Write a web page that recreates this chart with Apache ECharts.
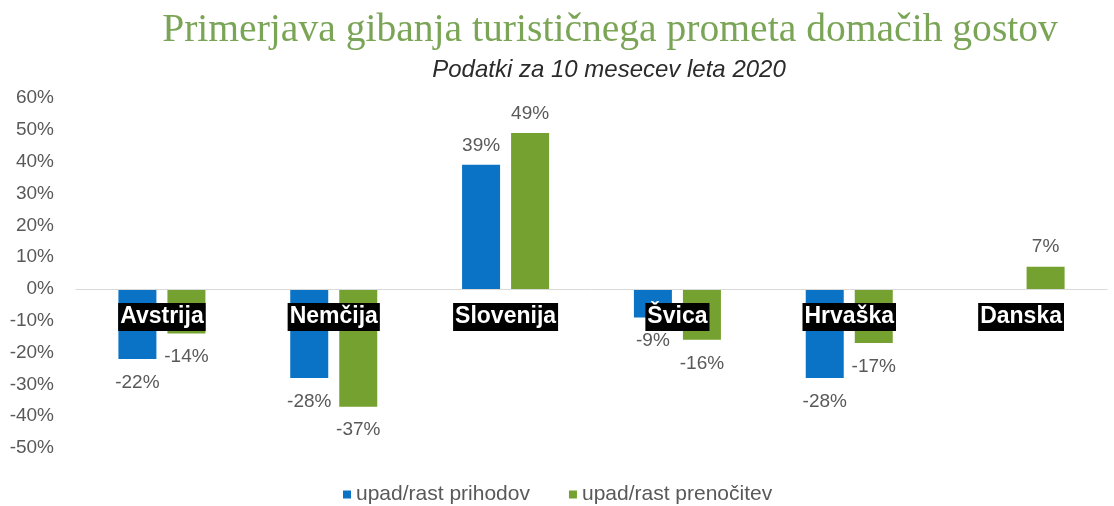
<!DOCTYPE html>
<html><head><meta charset="utf-8">
<script src="https://cdn.jsdelivr.net/npm/echarts@6/dist/echarts.min.js"></script>
<style>html,body{margin:0;padding:0;background:#fff}#c{width:1114px;height:506px}</style>
</head><body><div id="c"></div>
<script>
const categories = ['Avstrija','Nemčija','Slovenija','Švica','Hrvaška','Danska'];
const prihodki = [-22, -28, 39, -9, -28, null];
const prenocitve = [-14, -37, 49, -16, -17, 7];
const seriesNames = ['upad/rast prihodov','upad/rast prenočitev'];
const titleText = 'Primerjava gibanja turističnega prometa domačih gostov';
const subtitleText = 'Podatki za 10 mesecev leta 2020';

const toItems = arr => arr.map(v => v == null ? null : {value: v, label: v < 0 ? {position: 'bottom', distance: 14} : {position: 'top', distance: 10}});
const labelStyle = {show: true, formatter: '{c}%', color: '#595959', fontSize: 19, fontFamily: 'Liberation Sans, Arial'};

const chart = echarts.init(document.getElementById('c'));
chart.setOption({
  animation: false,
  graphic: [
    {type: 'text', x: 610, y: 31, style: {text: titleText, font: '39.6px "Liberation Serif", serif', fill: '#7ba556', align: 'center', verticalAlign: 'middle'}},
    {type: 'text', x: 609, y: 70, style: {text: subtitleText, font: 'italic 24px "Liberation Sans", Arial', fill: '#2b2b2b', align: 'center', verticalAlign: 'middle'}}
  ],
  legend: {
    left: 338, top: 479, itemWidth: 8, itemHeight: 8, itemGap: 39, icon: 'rect',
    textStyle: {fontSize: 21, color: '#595959', fontFamily: 'Liberation Sans, Arial'},
    data: seriesNames
  },
  grid: {left: 76, right: 7, top: 98, bottom: 58},
  xAxis: {
    type: 'category', data: categories, z: 10, offset: -159,
    axisLine: {onZero: false, lineStyle: {color: '#d9d9d9', width: 1}},
    axisTick: {show: false},
    axisLabel: {margin: 14, color: '#ffffff', backgroundColor: '#000000', fontWeight: 'bold', fontSize: 23, lineHeight: 24, padding: [2, 2], fontFamily: 'Liberation Sans, Arial'}
  },
  yAxis: {
    type: 'value', min: -50, max: 60, interval: 10,
    splitLine: {show: false}, axisLine: {show: false}, axisTick: {show: false},
    axisLabel: {formatter: '{value}%', color: '#595959', fontSize: 19, margin: 22, fontFamily: 'Liberation Sans, Arial'}
  },
  series: [
    {name: seriesNames[0], type: 'bar', data: toItems(prihodki), barWidth: 38, barGap: '29%', itemStyle: {color: '#0a73c6'}, label: labelStyle},
    {name: seriesNames[1], type: 'bar', data: toItems(prenocitve), barWidth: 38, itemStyle: {color: '#74a12f'}, label: labelStyle}
  ]
});
</script></body></html>
